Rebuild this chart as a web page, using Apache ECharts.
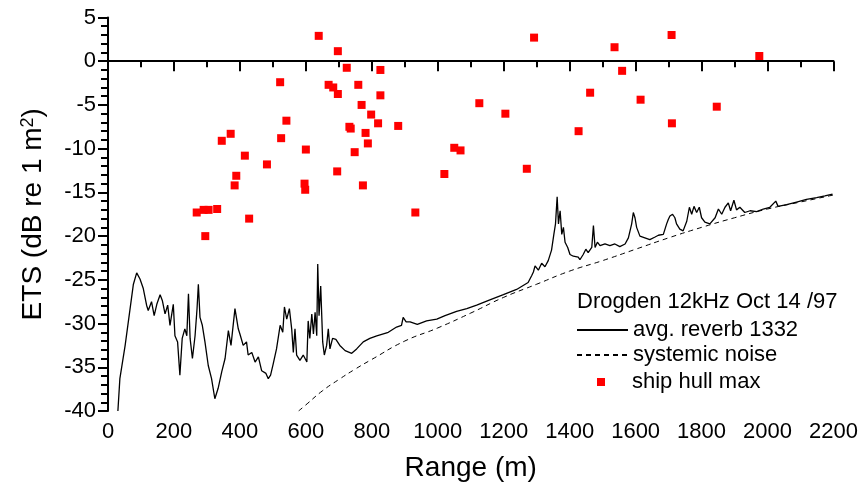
<!DOCTYPE html>
<html>
<head>
<meta charset="utf-8">
<script src="https://cdn.jsdelivr.net/npm/echarts@6/dist/echarts.min.js"></script>
<style>
html,body{margin:0;padding:0;background:#fff;}
#chart{width:865px;height:487px;}
</style>
</head>
<body>
<div id="chart"></div>
<script>
// ---- data ----
var reverbX = [30,36,52,77,87,97,107,117,122,132,140,148,158,165,173,181,188,198,203,211,218,225,233,239,244,249,256,264,270,274,279,286,294,304,314,324,334,345,355,365,373,385,395,400,410,420,425,436,446,456,466,479,486,493,501,511,522,530,535,542,550,557,562,567,572,582,592,603,607,612,618,623,628,633,636,640,645,651,656,663,668,673,681,691,703,719,739,754,774,794,815,850,875,890,895,904,916,938,966,997,1022,1057,1088,1118,1158,1199,1239,1274,1280,1285,1290,1295,1298,1305,1315,1325,1335,1345,1352,1357,1362,1366,1371,1376,1381,1386,1394,1401,1411,1426,1431,1441,1449,1456,1467,1472,1477,1484,1492,1507,1522,1537,1552,1568,1578,1588,1593,1598,1603,1613,1628,1643,1659,1669,1684,1694,1699,1704,1712,1719,1724,1734,1744,1755,1763,1770,1777,1785,1793,1800,1810,1825,1841,1851,1861,1871,1881,1888,1898,1906,1916,1931,1947,1967,1987,2007,2025,2032,2058,2088,2118,2149,2174,2197];
var reverbY = [-40,-36.3,-32.5,-25.5,-24.2,-24.9,-26.0,-27.9,-28.5,-27.5,-29.1,-27.8,-26.7,-27.4,-28.9,-27.9,-30.2,-27.8,-31.4,-32.1,-35.9,-31.7,-30.6,-31.4,-26.6,-31.7,-34.0,-31.4,-28.3,-25.5,-29.3,-30.2,-32.1,-34.8,-36.3,-38.6,-37.4,-35.5,-34.0,-30.8,-32.5,-28.3,-30.6,-31.2,-32.5,-32.1,-33.6,-33.3,-34.4,-33.8,-35.4,-35.7,-36.3,-35.9,-34.6,-32.9,-30.2,-31.0,-28.1,-29.5,-28.3,-30.6,-33.3,-30.6,-33.6,-34.2,-33.6,-34.4,-29.7,-31.7,-28.9,-31.2,-28.7,-31.4,-23.2,-29.1,-25.7,-32.1,-33.6,-32.5,-30.6,-32.9,-31.7,-31.8,-32.5,-33.1,-33.4,-32.9,-32.1,-31.7,-31.4,-31.0,-30.4,-30.2,-29.3,-29.8,-29.8,-30.1,-29.7,-29.5,-29.1,-28.6,-28.3,-27.9,-27.3,-26.7,-26.1,-25.3,-25.1,-24.5,-24.1,-23.4,-23.2,-23.9,-23.1,-23.5,-22.8,-21.6,-19.8,-18.6,-15.5,-18.6,-17.1,-19.8,-19.0,-20.7,-21.3,-22.1,-22.3,-22.4,-22.7,-22.1,-21.5,-21.9,-21.3,-18.8,-21.3,-20.7,-21.1,-20.9,-21.1,-20.9,-21.2,-20.9,-20.2,-18.6,-17.3,-17.9,-19.0,-20.0,-20.2,-20.4,-20.1,-19.9,-19.8,-18.6,-18.1,-17.7,-17.5,-17.9,-18.6,-19.2,-19.4,-18.3,-16.7,-17.5,-16.6,-17.3,-16.7,-17.9,-18.4,-18.6,-17.9,-16.9,-17.5,-16.7,-16.2,-17.1,-15.9,-17.0,-16.7,-17.3,-17.1,-17.2,-16.9,-16.7,-16.0,-16.6,-16.4,-16.1,-15.8,-15.6,-15.4,-15.2];

var noiseX = [578,600,650,700,750,800,900,1000,1100,1200,1300,1400,1500,1600,1700,1800,1900,2000,2100,2200];
var noiseY = [-40,-39.3,-37.7,-36.4,-35.2,-34.1,-32.0,-30.5,-28.8,-27.0,-25.5,-24.0,-22.8,-21.5,-20.2,-19.0,-17.9,-16.9,-16.1,-15.3];

var hullX = [269,290,305,331,295,345,372,384,389,415,428,482,522,525,541,596,598,600,639,669,683,695,697,697,724,732,736,748,759,769,773,781,788,798,819,826,826,880,932,1020,1050,1069,1126,1205,1270,1292,1427,1462,1536,1559,1615,1709,1710,1846,1975];
var hullY = [-17.3,-17.0,-17.0,-16.9,-20.0,-9.1,-8.3,-14.2,-13.1,-10.8,-18.0,-11.8,-2.4,-8.8,-6.8,-14.0,-14.7,-10.1,2.9,-2.7,-3.0,-12.6,1.15,-3.75,-0.75,-7.5,-7.7,-10.4,-2.7,-5.0,-14.2,-8.2,-9.4,-6.1,-7.1,-1.0,-3.9,-7.4,-17.3,-12.9,-9.9,-10.2,-4.8,-6.0,-12.3,2.7,-8.0,-3.6,1.6,-1.1,-4.4,3.0,-7.1,-5.2,0.6];

var seriesNames = ['avg. reverb 1332', 'systemic noise', 'ship hull max'];
var legendTitle = 'Drogden 12kHz Oct 14 /97';
var xTitle = 'Range (m)';

function zip(a, b) { return a.map(function (v, i) { return [v, b[i]]; }); }

var FONT = '"Liberation Sans", Arial, Helvetica, sans-serif';
var chart = echarts.init(document.getElementById('chart'), null, {renderer: 'canvas'});

var legendText = {fontFamily: FONT, fontSize: 22, color: '#000', lineHeight: 22};
var legendBase = {
  orient: 'vertical', left: 576, padding: 0, itemWidth: 51, itemHeight: 8,
  itemGap: 0, selectedMode: false,
  textStyle: legendText
};

chart.setOption({
  animation: false,
  backgroundColor: '#fff',
  title: {
    text: legendTitle, left: 577, top: 291, padding: 0,
    textStyle: {fontFamily: FONT, fontSize: 22, fontWeight: 'normal', color: '#000', lineHeight: 22}
  },
  legend: [
    Object.assign({}, legendBase, {top: 319, data: [seriesNames[0]], itemStyle: {opacity: 0}}),
    Object.assign({}, legendBase, {top: 344, data: [seriesNames[1]], itemStyle: {opacity: 0}}),
    Object.assign({}, legendBase, {top: 371, left: 597, itemWidth: 8, itemHeight: 8,
      textStyle: Object.assign({}, legendText, {padding: [0, 0, 0, 22]}),
      data: [{name: seriesNames[2], icon: 'rect'}]})
  ],
  grid: {left: 108, right: 31.5, top: 17.5, bottom: 74.5, containLabel: false},
  xAxis: {
    type: 'value', min: 0, max: 2200, interval: 200,
    name: xTitle, nameLocation: 'middle', nameGap: 43,
    nameTextStyle: {fontFamily: FONT, fontSize: 28, color: '#000'},
    axisLine: {show: true, lineStyle: {color: '#000', width: 2}},
    axisTick: {show: true, inside: false, length: 10, lineStyle: {color: '#000', width: 2}},
    minorTick: {show: true, splitNumber: 2, length: 6, lineStyle: {color: '#000', width: 2}},
    splitLine: {show: false},
    axisLabel: {fontFamily: FONT, fontSize: 22, color: '#000', margin: 10,
      formatter: function (v) { return String(v); }}
  },
  yAxis: {
    type: 'value', min: -40, max: 5, interval: 5,
    name: 'ETS (dB re 1 m{sup|2})', nameLocation: 'middle', nameGap: 61, nameRotate: 90,
    nameTextStyle: {fontFamily: FONT, fontSize: 28, color: '#000',
      rich: {sup: {fontFamily: FONT, fontSize: 18, color: '#000', verticalAlign: 'top'}}},
    axisLine: {show: true, lineStyle: {color: '#000', width: 2}},
    axisTick: {show: true, inside: false, length: 10, lineStyle: {color: '#000', width: 2}},
    minorTick: {show: true, splitNumber: 5, length: 7, lineStyle: {color: '#000', width: 2}},
    splitLine: {show: false},
    axisLabel: {fontFamily: FONT, fontSize: 22, color: '#000', margin: 12,
      formatter: function (v) { return String(v); }}
  },
  series: [
    {
      name: seriesNames[0], type: 'line', data: zip(reverbX, reverbY),
      symbol: 'none', showSymbol: false, smooth: false,
      lineStyle: {color: '#000', width: 1.3}, itemStyle: {color: '#000'}, z: 2
    },
    {
      name: seriesNames[1], type: 'line', data: zip(noiseX, noiseY),
      symbol: 'none', showSymbol: false, smooth: true,
      lineStyle: {color: '#000', width: 1, type: [5, 4]}, itemStyle: {color: '#000'}, z: 2
    },
    {
      name: seriesNames[2], type: 'scatter', data: zip(hullX, hullY),
      symbol: 'rect', symbolSize: 8, itemStyle: {color: '#ff0000', opacity: 1}, z: 3
    }
  ]
});
</script>
</body>
</html>
